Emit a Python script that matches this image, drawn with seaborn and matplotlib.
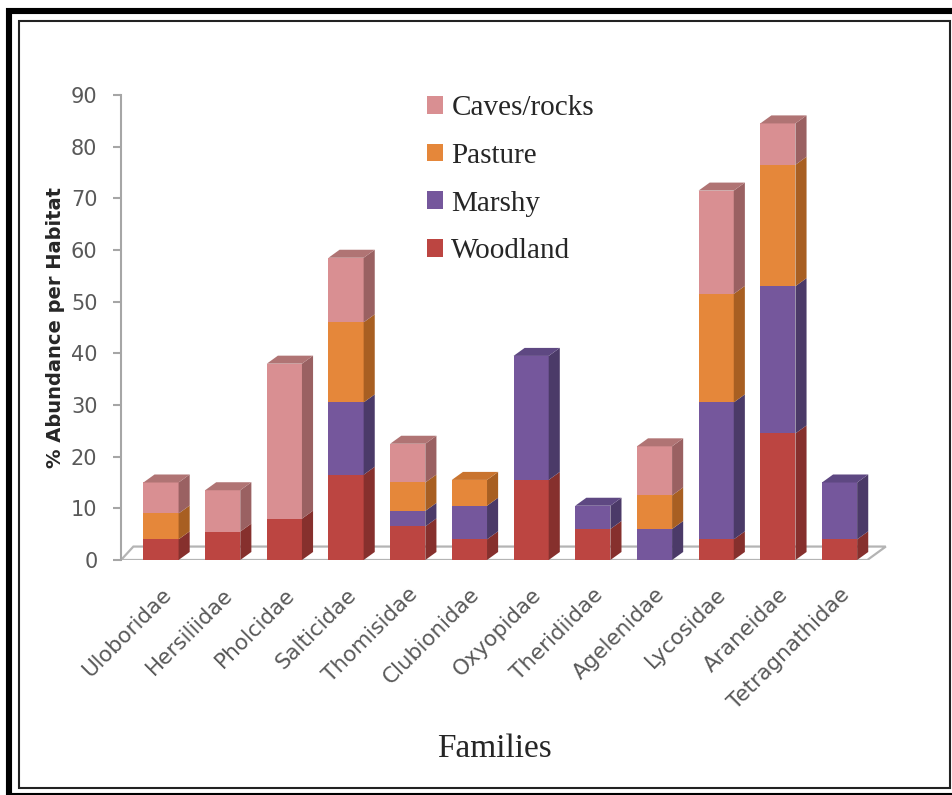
import numpy as np
import pandas as pd
import seaborn as sns
import matplotlib.pyplot as plt
from matplotlib.patches import Patch, Rectangle, Polygon

# data
families = ['Uloboridae', 'Hersiliidae', 'Pholcidae', 'Salticidae', 'Thomisidae',
            'Clubionidae', 'Oxyopidae', 'Theridiidae', 'Agelenidae', 'Lycosidae',
            'Araneidae', 'Tetragnathidae']
habitats = ['Woodland', 'Marshy', 'Pasture', 'Caves/rocks']
woodland = [4, 5.5, 8, 16.5, 6.5, 4, 15.5, 6, 0, 4, 24.5, 4]
marshy = [0, 0, 0, 14, 3, 6.5, 24, 4.5, 6, 26.5, 28.5, 11]
pasture = [5, 0, 0, 15.5, 5.5, 5, 0, 0, 6.5, 21, 23.5, 0]
caves = [6, 8, 30, 12.5, 7.5, 0, 0, 0, 9.5, 20, 8, 0]

front_cols = {'Woodland': '#BC4541', 'Marshy': '#75579C',
              'Pasture': '#E5873A', 'Caves/rocks': '#D98F92'}
side_cols = {'Woodland': '#86302D', 'Marshy': '#4B3A68',
             'Pasture': '#A85F22', 'Caves/rocks': '#9A6162'}
top_cols = {'Woodland': '#A53C39', 'Marshy': '#5E4882',
            'Pasture': '#C9742F', 'Caves/rocks': '#B07474'}

df = pd.DataFrame({'family': families, 'Woodland': woodland, 'Marshy': marshy,
                   'Pasture': pasture, 'Caves/rocks': caves})
cum = df[habitats].cumsum(axis=1)
cum['family'] = df['family']

sns.set_style('white')
fig = plt.figure(figsize=(9.53, 7.95), dpi=100)
ax = fig.add_axes([0.127, 0.2956, 0.8038, 0.5849])

bw = 0.57       # front face width
dx, dy = 0.18, 1.55   # fake depth

# floor
x0, x1 = -0.648, 11.45
floor = Polygon([(x0, 0), (x0 + 0.2, 2.6), (x1 + 0.3, 2.6), (x1, 0)],
                closed=True, facecolor='white', edgecolor='#B4B4B4', lw=1.6, zorder=0.5)
ax.add_patch(floor)

# stacked fronts: draw tallest cumulative first
for h in habitats[::-1]:
    sns.barplot(data=cum, x='family', y=h, color=front_cols[h], width=bw,
                saturation=1, ax=ax, order=families, zorder=2,
                edgecolor='none', linewidth=0)

# side and top faces
for i, fam in enumerate(families):
    bottom = 0
    for h in habitats:
        v = df.loc[i, h]
        if v <= 0:
            continue
        top = bottom + v
        xr = i + bw / 2
        ax.add_patch(Polygon([(xr, bottom), (xr + dx, bottom + dy), (xr + dx, top + dy), (xr, top)],
                             closed=True, facecolor=side_cols[h], edgecolor='none', zorder=2))
        bottom = top
        last = h
    xl = i - bw / 2
    ax.add_patch(Polygon([(xl, bottom), (xl + dx, bottom + dy), (xr + dx, bottom + dy), (xr, bottom)],
                         closed=True, facecolor=top_cols[last], edgecolor='none', zorder=2))

ax.set_xlim(-0.648, 11.77)
ax.set_ylim(0, 90)
ax.set_yticks(range(0, 91, 10))
for s in ['top', 'right', 'bottom']:
    ax.spines[s].set_visible(False)
ax.spines['left'].set_color('#A6A6A6')
ax.spines['left'].set_linewidth(1.5)
ax.tick_params(axis='y', left=True, length=6, width=1.5, color='#A6A6A6',
               labelsize=15, labelcolor='#595959', pad=11)
ax.tick_params(axis='x', bottom=False, labelsize=15.5, labelcolor='#595959', pad=14)
plt.setp(ax.get_xticklabels(), rotation=45, ha='right', rotation_mode='anchor')
ax.set_xlabel('')
ax.set_ylabel('% Abundance per Habitat', fontsize=14, fontweight='bold',
              color='#262626', labelpad=4)

fig.text(0.519, 0.058, 'Families', fontsize=24, family='Liberation Serif',
         ha='center', va='center')

handles = [Patch(facecolor=front_cols[h], edgecolor='none', label=h) for h in habitats[::-1]]
fig.legend(handles=handles, loc='upper left', bbox_to_anchor=(0.42, 0.913),
           frameon=False, prop={'family': 'Liberation Serif', 'size': 21},
           handlelength=0.55, handleheight=0.55, handletextpad=0.3, labelspacing=0.74)

# double frame
fig.add_artist(Rectangle((9.5 / 953, -1 / 795), 947 / 953, 785 / 795, transform=fig.transFigure,
                         fill=False, edgecolor='black', lw=4.4))
fig.add_artist(Rectangle((19 / 953, 7.5 / 795), 931 / 953, 767 / 795, transform=fig.transFigure,
                         fill=False, edgecolor='#222222', lw=1.5))

plt.savefig('out.png', dpi=100)
